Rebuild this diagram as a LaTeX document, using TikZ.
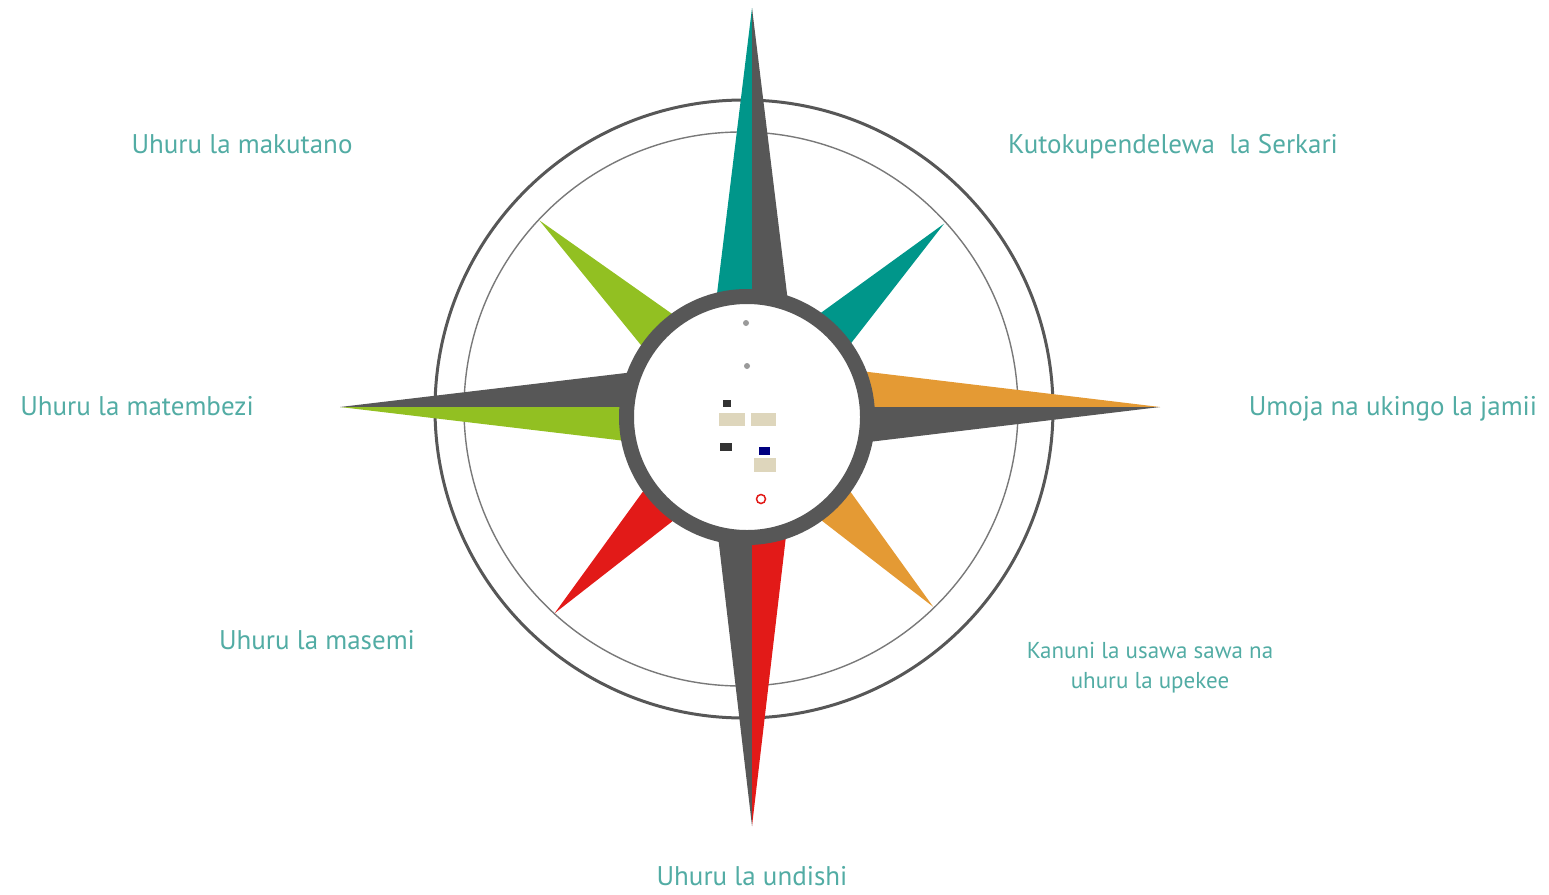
\documentclass[tikz,border=0pt]{standalone}
\usepackage{fontspec}
\setmainfont{PT Sans}
\definecolor{rosered}{RGB}{226,26,24}
\definecolor{roseteal}{RGB}{0,150,138}
\definecolor{roseorange}{RGB}{228,154,52}
\definecolor{rosegreen}{RGB}{146,192,34}
\definecolor{rosegray}{RGB}{87,87,87}
\definecolor{labelteal}{RGB}{82,172,164}
\definecolor{thumbbeige}{RGB}{222,214,188}
\tikzset{
  ringline/.style={rosegray, line width=3pt},
  thinring/.style={rosegray!80, line width=1.4pt},
  windtext/.style={text=labelteal, font=\fontsize{27}{32}\selectfont, anchor=base, inner sep=0pt},
  smalltext/.style={text=labelteal, font=\fontsize{23}{30}\selectfont, anchor=base, inner sep=0pt},
  thumb/.style={fill=thumbbeige},
}
\begin{document}
\begin{tikzpicture}[x=1pt,y=-1pt]
\useasboundingbox (0,0) rectangle (1549,894);

% outer rings
\draw[ringline] (744,409) circle (309pt);
\draw[thinring] (741,409) circle (277pt);

% diagonal points
\foreach \ang/\len/\col in {44/274/roseteal,137/284/rosegreen,226/277/rosered,314/268/roseorange}
  \fill[\col, shift={(747,414)}, rotate=\ang] (\len,0) -- (0,39) -- (0,-39) -- cycle;

% main points (N, E, S, W)
\fill[roseteal] (752,8) -- (703,408) -- (752,408) -- cycle;
\fill[rosegray] (752,8) -- (801,408) -- (752,408) -- cycle;
\fill[roseorange] (1160,407) -- (752,358) -- (752,407) -- cycle;
\fill[rosegray] (1160,407) -- (752,456) -- (752,407) -- cycle;
\fill[rosegray] (752,826) -- (703,408) -- (752,408) -- cycle;
\fill[rosered] (752,826) -- (801,408) -- (752,408) -- cycle;
\fill[rosegray] (340,407) -- (752,358) -- (752,407) -- cycle;
\fill[rosegreen] (340,407) -- (752,456) -- (752,407) -- cycle;

% hub
\draw[rosegray, line width=15pt, fill=white] (747,417) circle (120.5pt);

% small thumbnails in the hub
\fill[rosegray!60] (746,323) circle (3pt);
\fill[rosegray!60] (747,366) circle (3pt);
\fill[black!80] (723,400) rectangle (731,407);
\fill[thumb] (719,413) rectangle (745,426);
\fill[thumb] (751,413) rectangle (776,426);
\fill[black!80] (720,443) rectangle (732,451);
\fill[blue!50!black] (759,447) rectangle (770,455);
\fill[thumb] (754,458) rectangle (776,472);
\draw[rosered, line width=1.5pt] (761,499) circle (4.5pt);

% labels
\node[windtext] (makutano) at (242,153) {Uhuru la makutano};
\node[windtext] (serkari) at (1173,153) {Kutokupendelewa\ \ la Serkari};
\node[windtext] (matembezi) at (137,415) {Uhuru la matembezi};
\node[windtext] (jamii) at (1393,415) {Umoja na ukingo la jamii};
\node[windtext] (masemi) at (317,649) {Uhuru la masemi};
\node[smalltext] (kanuni) at (1150,658) {Kanuni la usawa sawa na};
\node[smalltext] (upekee) at (1150,688) {uhuru la upekee};
\node[windtext] (undishi) at (752,885) {Uhuru la undishi};
\end{tikzpicture}
\end{document}
